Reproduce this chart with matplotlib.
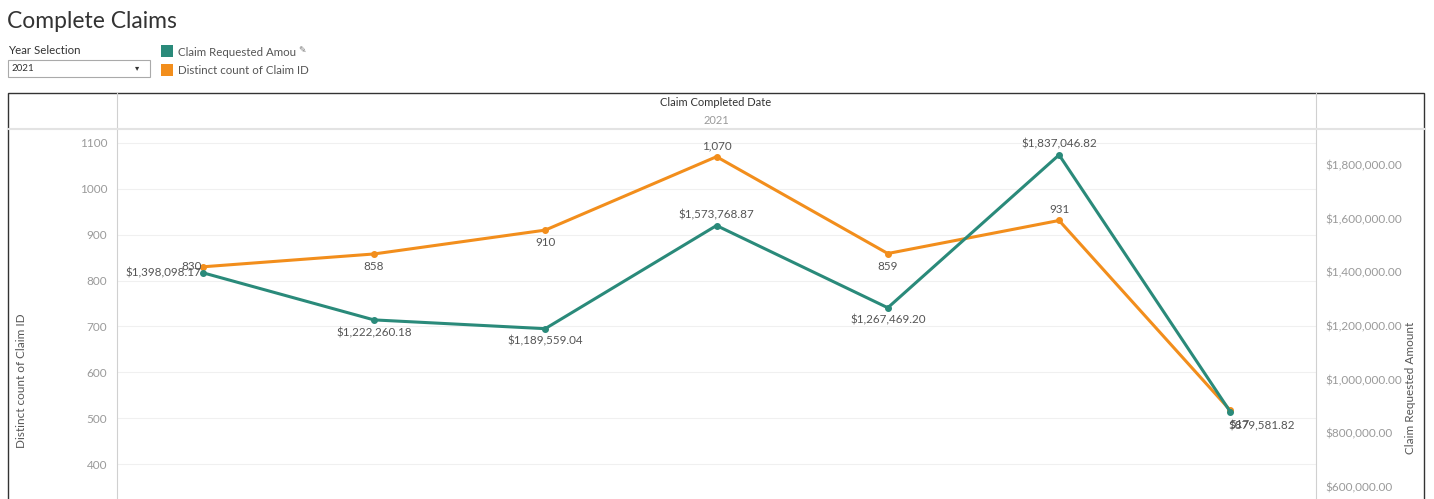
import matplotlib.pyplot as plt
from matplotlib.patches import Rectangle
from matplotlib.lines import Line2D

plt.rcParams["font.family"] = ["Lato", "DejaVu Sans"]

# data
months = list(range(7))
claim_count = [830, 858, 910, 1070, 859, 931, 517]
claim_amount = [1398098.17, 1222260.18, 1189559.04, 1573768.87, 1267469.20, 1837046.82, 879581.82]
left_ticks = [400, 500, 600, 700, 800, 900, 1000, 1100]
right_ticks = [600000, 800000, 1000000, 1200000, 1400000, 1600000, 1800000]
# label position for each point: left / below / above / right
label_pos = ["left", "below", "below", "above", "below", "above", "right"]

teal = "#2a8a7a"
orange = "#f28e1c"
grey_txt = "#9a9a9a"
dark_txt = "#555555"

W, H = 1434, 499
fig = plt.figure(figsize=(W / 100, H / 100), dpi=100)


def fx(px):
    return px / W


def fy(py):
    return 1 - py / H


# title and filter area
fig.text(fx(7), fy(22), "Complete Claims", fontsize=16.5, color="#333333", va="center", ha="left")
fig.text(fx(8), fy(50), "Year Selection", fontsize=8.3, color="#333333", va="center")
fig.patches.append(Rectangle((fx(8), fy(77)), fx(142), 17 / H, transform=fig.transFigure,
                             facecolor="white", edgecolor="#aaaaaa", lw=0.8))
fig.text(fx(12), fy(68.5), "2021", fontsize=7, color="#333333", va="center")
fig.text(fx(137), fy(68), "▾", fontsize=6, color="#333333", va="center", ha="center",
         family="DejaVu Sans")

# legend
fig.patches.append(Rectangle((fx(161), fy(57)), fx(12), 12 / H, transform=fig.transFigure,
                             facecolor=teal, edgecolor="none"))
fig.patches.append(Rectangle((fx(161), fy(76)), fx(12), 12 / H, transform=fig.transFigure,
                             facecolor=orange, edgecolor="none"))
fig.text(fx(178), fy(52), "Claim Requested Amou", fontsize=8.3, color="#555555", va="center")
fig.text(fx(298), fy(50), "✎", fontsize=6.5, color="#777777", va="center", family="DejaVu Sans")
fig.text(fx(178), fy(71), "Distinct count of Claim ID", fontsize=8.3, color="#555555", va="center")

# frame lines
fig.patches.append(Rectangle((fx(8), fy(H + 5)), fx(1416), (H + 5 - 93) / H, transform=fig.transFigure,
                             facecolor="none", edgecolor="#333333", lw=1.0))
for xp in [117, 1316]:
    fig.lines.append(Line2D([fx(xp), fx(xp)], [fy(93), 0], transform=fig.transFigure,
                            color="#d0d0d0", lw=0.8))
fig.lines.append(Line2D([fx(8), fx(1424)], [fy(129), fy(129)], transform=fig.transFigure,
                        color="#e3e3e3", lw=1.5))
fig.text(fx(716), fy(102), "Claim Completed Date", fontsize=8, color="#333333", ha="center",
         va="center")
fig.text(fx(716), fy(121), "2021", fontsize=8, color=grey_txt, ha="center", va="center")

# axes
ax = fig.add_axes([fx(117), 0, fx(1316 - 117), (H - 131) / H])
ax2 = ax.twinx()

ax.set_xlim(-0.5, 6.5)
ax.set_ylim(324, 1126)
ax2.set_ylim(555000, 1926000)

for a in [ax, ax2]:
    for s in a.spines.values():
        s.set_visible(False)
    a.set_xticks([])
    a.tick_params(axis="y", length=0, labelsize=8.5, labelcolor=grey_txt)

ax.set_yticks(left_ticks)
ax.set_yticklabels([str(t) for t in left_ticks])
ax.tick_params(axis="y", pad=7)
ax.grid(axis="y", color="#f0f0f0", lw=0.8)
ax.set_axisbelow(True)

ax2.set_yticks(right_ticks)
ax2.set_yticklabels(["${:,.2f}".format(t) for t in right_ticks])
ax2.tick_params(axis="y", pad=7)

fig.text(fx(22), fy(381), "Distinct count of Claim ID", rotation=90, fontsize=8.5,
         color=dark_txt, ha="center", va="center")
fig.text(fx(1410), fy(388), "Claim Requested Amount", rotation=90, fontsize=8.5,
         color=dark_txt, ha="center", va="center")

ax.plot(months, claim_count, color=orange, lw=2.2, marker="o", ms=4, zorder=3)
ax2.plot(months, claim_amount, color=teal, lw=2.2, marker="o", ms=4, zorder=3)


def put_labels(axis, values, fmt):
    for x, v, pos in zip(months, values, label_pos):
        txt = fmt(v)
        kw = dict(fontsize=8.4, color=dark_txt, textcoords="offset points")
        if pos == "left":
            axis.annotate(txt, (x, v), xytext=(-1, 0), ha="right", va="center", **kw)
        elif pos == "right":
            axis.annotate(txt, (x, v), xytext=(-1, -10), ha="left", va="center", **kw)
        elif pos == "above":
            axis.annotate(txt, (x, v), xytext=(0, 8), ha="center", va="center", **kw)
        else:
            axis.annotate(txt, (x, v), xytext=(0, -9), ha="center", va="center", **kw)


put_labels(ax, claim_count, lambda v: "{:,}".format(v))
put_labels(ax2, claim_amount, lambda v: "${:,.2f}".format(v))

fig.savefig("out.png", dpi=100)
